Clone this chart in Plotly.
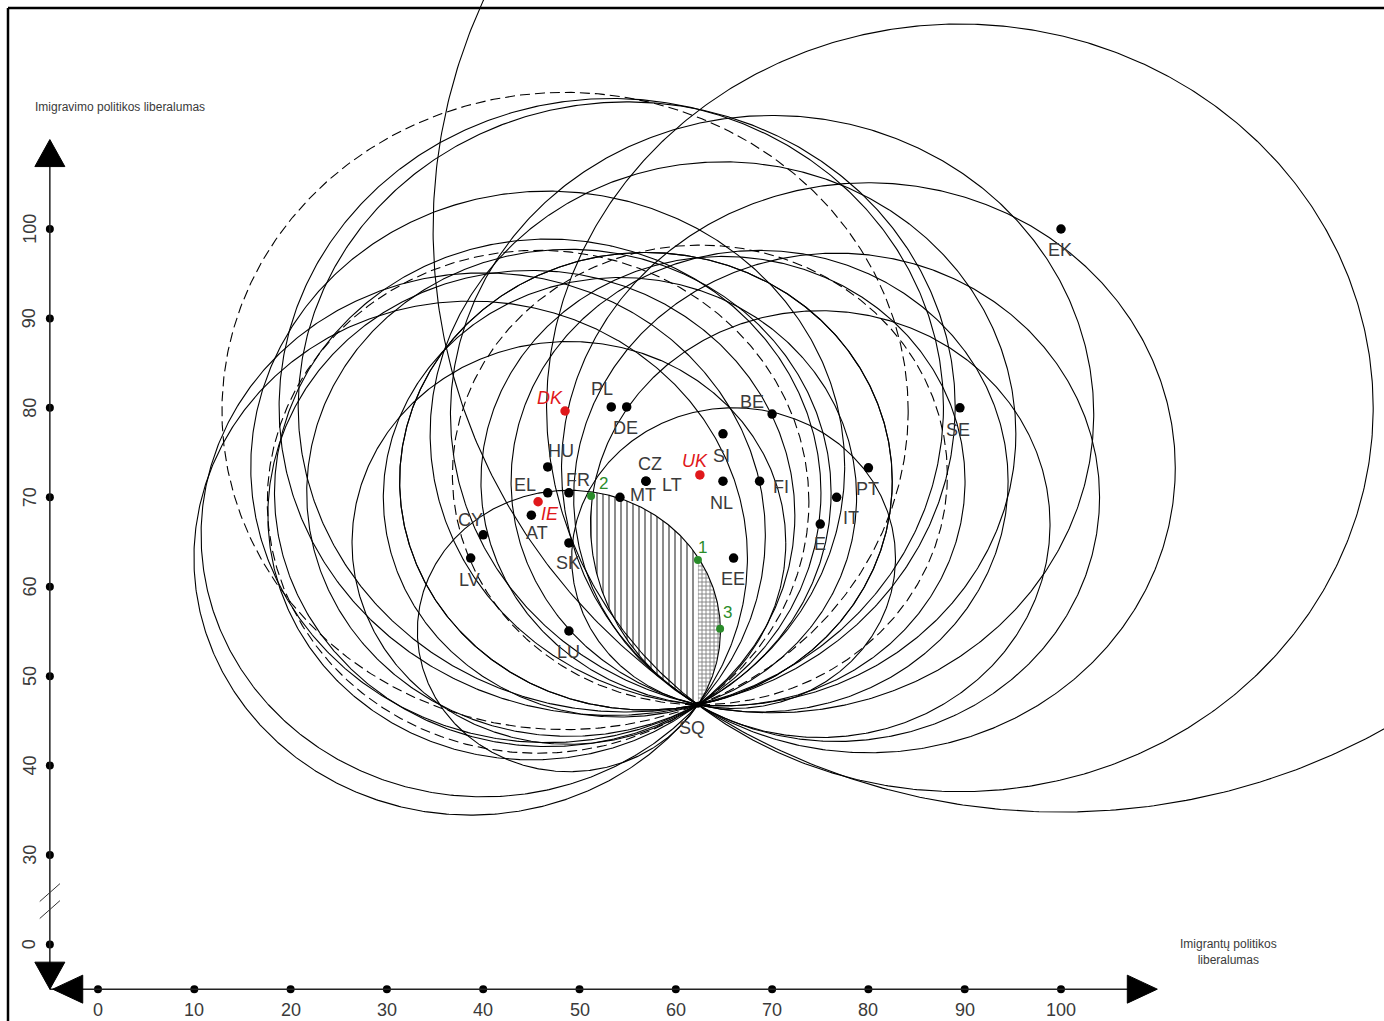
import numpy as np
import plotly.graph_objects as go

# ---------------- data ----------------
countries = ["EK", "SE", "PL", "DE", "DK", "BE", "SI", "HU", "UK", "PT", "CZ", "LT", "NL",
             "FI", "EL", "FR", "MT", "IT", "IE", "AT", "E", "CY", "SK", "LV", "EE", "LU"]
country_x = [100.0, 89.5, 53.3, 54.9, 48.5, 70.0, 64.9, 46.7, 62.5, 80.0, 56.9, 56.9, 64.9,
             68.7, 46.7, 48.9, 54.2, 76.7, 45.7, 45.0, 75.0, 40.0, 48.9, 38.7, 66.0, 48.9]
country_y = [100.0, 80.0, 80.1, 80.1, 79.65, 79.3, 77.1, 73.4, 72.5, 73.3, 71.8, 71.8, 71.8,
             71.8, 70.5, 70.5, 70.0, 70.0, 69.5, 68.0, 67.0, 65.8, 64.9, 63.2, 63.2, 55.05]
highlighted = ["DK", "UK", "IE"]          # red points, dashed indifference circles

sq_label = "SQ"
sq_x, sq_y = 62.3, 46.8

proposal_labels = ["1", "2", "3"]
proposal_x = [62.3, 51.2, 64.6]
proposal_y = [63.0, 70.15, 55.3]

winset_bounds = ["LU", "E"]                # circles bounding the hatched area

x_ticks = [0, 10, 20, 30, 40, 50, 60, 70, 80, 90, 100]
y_ticks = [0, 30, 40, 50, 60, 70, 80, 90, 100]
y_axis_title = "Imigravimo politikos liberalumas"
x_axis_title = "Imigrantų politikos<br>liberalumas"

# ---------------- layout / style ----------------
W, H = 1384, 1021
XS, YS = 9.63, 8.943            # px per unit
X0PX, Y100PX = 98, 229
x_range = [-X0PX / XS, (W - X0PX) / XS]
y_range = [100 - (H - Y100PX) / YS, 100 + Y100PX / YS]

FONT = "Liberation Sans, Arial, sans-serif"
TXT = "#3a3a3a"
RED = "#e0181b"
GREEN = "#2a8c2a"

AX_X, AX_Y = -5.0, 15.0         # axis positions (data units)
AX_END = 110.0


def y_pos(v):                   # broken y axis: 0 drawn where 20 would be
    return v if v >= 30 else v + 20


fig = go.Figure()

# ---- hatched win-set region (intersection of LU and E circles) ----
idx = {c: i for i, c in enumerate(countries)}


def circ(cx, cy, r, n=1440):
    t = np.linspace(0, 2 * np.pi, n, endpoint=False)
    return cx + r * np.cos(t), cy + r * np.sin(t)


cA = (country_x[idx[winset_bounds[0]]], country_y[idx[winset_bounds[0]]])
cB = (country_x[idx[winset_bounds[1]]], country_y[idx[winset_bounds[1]]])
rA = np.hypot(cA[0] - sq_x, cA[1] - sq_y)
rB = np.hypot(cB[0] - sq_x, cB[1] - sq_y)
ax_, ay_ = circ(cA[0], cA[1], rA)
bx_, by_ = circ(cB[0], cB[1], rB)
inA = np.hypot(ax_ - cB[0], ay_ - cB[1]) <= rB + 1e-6
inB = np.hypot(bx_ - cA[0], by_ - cA[1]) <= rA + 1e-6
px_ = np.concatenate([ax_[inA], bx_[inB]])
py_ = np.concatenate([ay_[inA], by_[inB]])
mx, my = px_.mean(), py_.mean()
order = np.argsort(np.arctan2(py_ - my, px_ - mx))
px_, py_ = px_[order], py_[order]


def clip(xs, ys, c, left):
    out = []
    n = len(xs)
    for i in range(n):
        x1, y1 = xs[i], ys[i]
        x2, y2 = xs[(i + 1) % n], ys[(i + 1) % n]
        i1 = x1 <= c if left else x1 >= c
        i2 = x2 <= c if left else x2 >= c
        if i1:
            out.append((x1, y1))
        if i1 != i2:
            t = (c - x1) / (x2 - x1)
            out.append((c, y1 + t * (y2 - y1)))
    out.append(out[0])
    return [p[0] for p in out], [p[1] for p in out]


lx, ly = clip(px_, py_, sq_x, True)
rx, ry = clip(px_, py_, sq_x, False)
fig.add_trace(go.Scatter(x=lx, y=ly, mode="lines", fill="toself", fillcolor="rgba(0,0,0,0)",
                         fillpattern=dict(shape="|", size=6, solidity=0.3, fgcolor="black",
                                          bgcolor="rgba(0,0,0,0)"),
                         line=dict(width=0), hoverinfo="skip", showlegend=False))
fig.add_trace(go.Scatter(x=rx, y=ry, mode="lines", fill="toself", fillcolor="rgba(0,0,0,0)",
                         fillpattern=dict(shape="+", size=4, solidity=0.4, fgcolor="black",
                                          bgcolor="rgba(0,0,0,0)"),
                         line=dict(width=0), hoverinfo="skip", showlegend=False))

# ---- indifference circles through SQ ----
t = np.linspace(0, 2 * np.pi, 721)
for c, cx, cy in zip(countries, country_x, country_y):
    r = np.hypot(cx - sq_x, cy - sq_y)
    dash = "10px,5px" if c in highlighted else "solid"
    fig.add_trace(go.Scatter(x=cx + r * np.cos(t), y=cy + r * np.sin(t), mode="lines",
                             line=dict(color="black", width=1.1, dash=dash),
                             hoverinfo="skip", showlegend=False))

# ---- points ----
pcol = [RED if c in highlighted else "black" for c in countries]
fig.add_trace(go.Scatter(x=country_x, y=country_y, mode="markers",
                         marker=dict(size=9.5, color=pcol), showlegend=False))
fig.add_trace(go.Scatter(x=[sq_x], y=[sq_y], mode="markers",
                         marker=dict(size=6, color="black"), showlegend=False))
fig.add_trace(go.Scatter(x=proposal_x, y=proposal_y, mode="markers",
                         marker=dict(size=8, color=GREEN), showlegend=False))

# ---- labels ----
label_off = {"EK": (-1, 21), "SE": (-2, 22), "PL": (-9, -18), "DE": (-1, 21), "DK": (-15, -13),
             "BE": (-20, -12), "SI": (-1, 22), "HU": (13, -16), "UK": (-5, -14), "PT": (-1, 21),
             "CZ": (4, -17), "LT": (26, 4), "NL": (-1, 22), "FI": (21, 6), "EL": (-23, -8),
             "FR": (9, -13), "MT": (23, -2), "IT": (14, 21), "IE": (12, 12), "AT": (6, 18),
             "E": (0, 20), "CY": (-13, -15), "SK": (-1, 20), "LV": (-1, 22), "EE": (-1, 21),
             "LU": (0, 21)}
ann = []
for c, cx, cy in zip(countries, country_x, country_y):
    dx, dy = label_off[c]
    hl = c in highlighted
    ann.append(dict(x=cx, y=cy, xshift=dx, yshift=-dy, text=f"<i>{c}</i>" if hl else c,
                    showarrow=False,
                    font=dict(family=FONT, size=18, color=RED if hl else TXT),
                    xanchor="center", yanchor="middle"))
ann.append(dict(x=sq_x, y=sq_y, xshift=-6, yshift=-23, text=sq_label, showarrow=False,
                font=dict(family=FONT, size=18, color=TXT)))
prop_off = {"1": (5, -12), "2": (12, -12), "3": (7, -16)}
for lab, px, py in zip(proposal_labels, proposal_x, proposal_y):
    dx, dy = prop_off[lab]
    ann.append(dict(x=px, y=py, xshift=dx, yshift=-dy, text=lab, showarrow=False,
                    font=dict(family=FONT, size=17, color=GREEN)))

# ---- axes (hand-drawn style) ----
shapes = []
shapes.append(dict(type="line", x0=AX_X, y0=AX_Y, x1=AX_X, y1=AX_END - 2,
                   line=dict(color="#222222", width=1.5)))
shapes.append(dict(type="line", x0=AX_X, y0=AX_Y, x1=AX_END - 2, y1=AX_Y,
                   line=dict(color="#222222", width=1.5)))
hw_x, len_y = 15 / XS, 27 / YS      # vertical arrow half-width, length
hw_y, len_x = 14 / YS, 30 / XS      # horizontal arrow half-height, length


def tri(p):
    return "M " + " L ".join(f"{a},{b}" for a, b in p) + " Z"


shapes.append(dict(type="path", path=tri([(AX_X, AX_END), (AX_X - hw_x, AX_END - len_y),
                                          (AX_X + hw_x, AX_END - len_y)]),
                   fillcolor="black", line=dict(color="black", width=1)))
shapes.append(dict(type="path", path=tri([(AX_X, AX_Y), (AX_X - hw_x, AX_Y + len_y),
                                          (AX_X + hw_x, AX_Y + len_y)]),
                   fillcolor="black", line=dict(color="black", width=1)))
shapes.append(dict(type="path", path=tri([(AX_END, AX_Y), (AX_END - len_x, AX_Y - hw_y),
                                          (AX_END - len_x, AX_Y + hw_y)]),
                   fillcolor="black", line=dict(color="black", width=1)))
shapes.append(dict(type="path", path=tri([(AX_X + 0.3, AX_Y), (AX_X + 0.3 + len_x, AX_Y - hw_y),
                                          (AX_X + 0.3 + len_x, AX_Y + hw_y)]),
                   fillcolor="black", line=dict(color="black", width=1)))
# axis break marks
for yc in (25.8, 23.9):
    shapes.append(dict(type="line", x0=AX_X - 1.05, y0=yc - 1.0, x1=AX_X + 1.05, y1=yc + 1.0,
                       line=dict(color="#333333", width=1)))
# frame (left and top border)
shapes.append(dict(type="line", xref="paper", yref="paper", x0=8 / W, y0=0, x1=8 / W,
                   y1=1 - 8 / H, line=dict(color="black", width=2.5)))
shapes.append(dict(type="line", xref="paper", yref="paper", x0=8 / W, y0=1 - 8 / H, x1=1,
                   y1=1 - 8 / H, line=dict(color="black", width=2.5)))

fig.add_trace(go.Scatter(x=x_ticks, y=[AX_Y] * len(x_ticks), mode="markers",
                         marker=dict(size=8, color="black"), showlegend=False))
fig.add_trace(go.Scatter(x=[AX_X] * len(y_ticks), y=[y_pos(v) for v in y_ticks], mode="markers",
                         marker=dict(size=8, color="black"), showlegend=False))
for v in x_ticks:
    ann.append(dict(x=v, y=AX_Y, yshift=-21, text=str(v), showarrow=False,
                    font=dict(family=FONT, size=18, color=TXT)))
for v in y_ticks:
    ann.append(dict(x=AX_X, y=y_pos(v), xshift=-20, text=str(v), showarrow=False, textangle=-90,
                    font=dict(family=FONT, size=18, color=TXT)))
ann.append(dict(x=AX_X, y=AX_END, xshift=-17, yshift=33, text=y_axis_title, showarrow=False,
                xanchor="left", font=dict(family=FONT, size=12, color=TXT)))
ann.append(dict(x=AX_END, y=AX_Y, xshift=71, yshift=37, text=x_axis_title, showarrow=False,
                xanchor="center", font=dict(family=FONT, size=12, color=TXT)))

fig.update_layout(
    width=W, height=H, margin=dict(l=0, r=0, t=0, b=0),
    paper_bgcolor="white", plot_bgcolor="white",
    xaxis=dict(range=x_range, visible=False, fixedrange=True),
    yaxis=dict(range=y_range, visible=False, fixedrange=True),
    shapes=shapes, annotations=ann, showlegend=False,
)
fig.write_html("out.html")
